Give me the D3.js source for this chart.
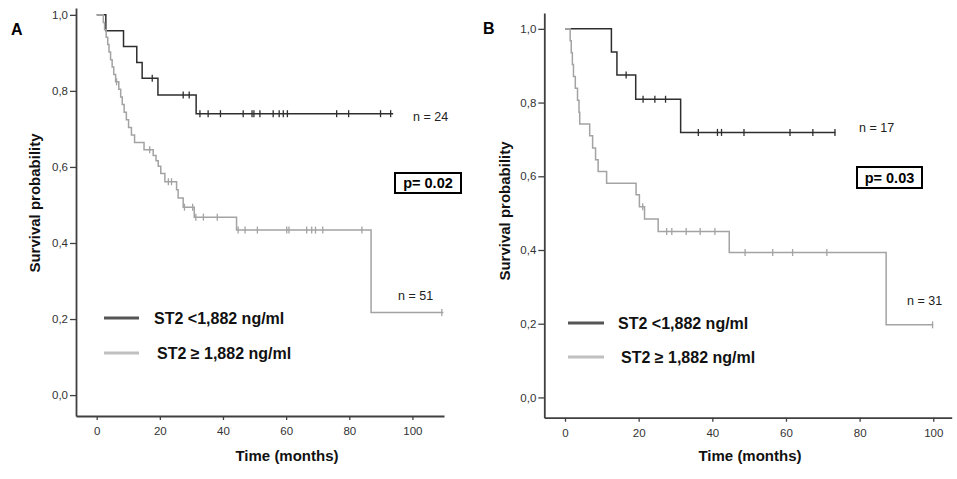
<!DOCTYPE html>
<html>
<head>
<meta charset="utf-8">
<script src="https://cdn.jsdelivr.net/npm/d3@7"></script>
<style>
  body { margin: 0; background: #fff; }
  svg { display: block; font-family: "Liberation Sans", Arial, sans-serif; }
</style>
</head>
<body>
<div id="chart"></div>
<script>
// ---- data: [time (months), survival after step] ----
const yTicks = [0, 0.2, 0.4, 0.6, 0.8, 1.0];
const xTicks = [0, 20, 40, 60, 80, 100];
const legendLabels = ["ST2 <1,882 ng/ml", "ST2 \u2265 1,882 ng/ml"];

// panel A, ST2 < 1,882 (n = 24)
const aLowSteps = [[0, 1], [2.9, 0.958], [8.5, 0.917], [12.7, 0.875], [14.4, 0.833], [19.4, 0.789], [31.5, 0.740]];
const aLowCensor = [17.6, 27.4, 29.3, 32.7, 35.3, 39.2, 46.4, 49.2, 49.8, 51.7, 55.9, 57.8, 59.1, 60.4, 76.0, 79.8, 89.9, 93.1];
const aLowEnd = 93.9;

// panel A, ST2 >= 1,882 (n = 51)
const aHighSteps = [[0, 1], [2.1, 0.980], [2.5, 0.961], [3.0, 0.941], [3.5, 0.922], [3.9, 0.902], [4.4, 0.882],
  [4.9, 0.863], [5.4, 0.843], [6.0, 0.824], [7.0, 0.804], [7.6, 0.784], [8.1, 0.764], [8.7, 0.744], [9.4, 0.724],
  [10.1, 0.704], [11.0, 0.684], [12.0, 0.664], [15.0, 0.645], [17.9, 0.630], [18.8, 0.616], [19.5, 0.602],
  [20.3, 0.583], [21.6, 0.561], [25.3, 0.540], [25.8, 0.518], [27.4, 0.494], [30.9, 0.468], [44.3, 0.434], [86.9, 0.217]];
const aHighCensor = [6.3, 16.8, 22.7, 23.7, 27.8, 30.4, 31.4, 33.8, 38.2, 44.8, 47.0, 50.9, 60.2, 60.9, 66.5, 68.1, 69.3, 71.6, 84.0, 109.3];
const aHighEnd = 109.8;

// panel B, ST2 < 1,882 (n = 17)
const bLowSteps = [[0, 1], [12.6, 0.937], [14.1, 0.875], [19.2, 0.809], [31.4, 0.719]];
const bLowCensor = [16.6, 21.2, 24.4, 27.3, 36.2, 41.4, 42.5, 48.6, 61.1, 67.3, 73.3];
const bLowEnd = 73.4;

// panel B, ST2 >= 1,882 (n = 31)
const bHighSteps = [[0, 1], [1.4, 0.968], [1.7, 0.935], [2.0, 0.903], [2.3, 0.871], [2.8, 0.839], [3.4, 0.806],
  [3.8, 0.774], [4.0, 0.742], [6.7, 0.710], [7.5, 0.677], [8.3, 0.645], [9.0, 0.613], [11.3, 0.581],
  [19.3, 0.550], [20.2, 0.517], [21.6, 0.484], [25.3, 0.450], [44.6, 0.393], [87.2, 0.197]];
const bHighCensor = [21.1, 27.6, 29.0, 32.9, 36.7, 40.7, 48.9, 56.4, 61.8, 71.1, 99.8];
const bHighEnd = 100;

const panels = [
  {
    label: "A", labelPos: [11, 35],
    xDomain: [-6.55, 110], xRange: [76, 444],
    yDomain: [-0.055, 1.018], yRange: [416, 8],
    yTitle: [35, 203], xTitleX: 287,
    low: { steps: aLowSteps, censor: aLowCensor, end: aLowEnd, n: "n = 24", nPos: [413, 121] },
    high: { steps: aHighSteps, censor: aHighCensor, end: aHighEnd, n: "n = 51", nPos: [398, 300] },
    legend: { x1: 104, x2: 139, textX: [154, 157], y: [318, 353] },
    pBox: { x: 395, y: 173, w: 66, h: 20, text: "p= 0.02" }
  },
  {
    label: "B", labelPos: [483, 34],
    xDomain: [-5.62, 105], xRange: [544.3, 951.7],
    yDomain: [-0.055, 1.043], yRange: [417.7, 13],
    yTitle: [505, 211], xTitleX: 750,
    low: { steps: bLowSteps, censor: bLowCensor, end: bLowEnd, n: "n = 17", nPos: [859, 132] },
    high: { steps: bHighSteps, censor: bHighCensor, end: bHighEnd, n: "n = 31", nPos: [907, 305] },
    legend: { x1: 568, x2: 604, textX: [618, 621], y: [323, 357] },
    pBox: { x: 857, y: 167, w: 65, h: 21, text: "p= 0.03" }
  }
];

const W = 957, H = 479;
const lowColor = "#2e2e2e", highColor = "#a3a3a3";

const svg = d3.select("#chart").append("svg")
  .attr("width", W).attr("height", H)
  .attr("viewBox", [0, 0, W, H]);

// survival value at time t for a step list
const survAt = (steps, t) => {
  let s = steps[0][1];
  steps.forEach((p) => { if (p[0] <= t) s = p[1]; });
  return s;
};

const drawPanel = (p) => {
  const g = svg.append("g");
  const x = d3.scaleLinear().domain(p.xDomain).range(p.xRange);
  const y = d3.scaleLinear().domain(p.yDomain).range(p.yRange);

  const xAxis = d3.axisBottom(x).tickValues(xTicks).tickSize(4).tickSizeOuter(0).tickPadding(7);
  const yAxis = d3.axisLeft(y).tickValues(yTicks).tickSize(6).tickSizeOuter(0).tickPadding(2)
    .tickFormat((d) => d3.format(".1f")(d).replace(".", ","));

  const gx = g.append("g").attr("transform", `translate(0,${p.yRange[0]})`).call(xAxis);
  const gy = g.append("g").attr("transform", `translate(${p.xRange[0]},0)`).call(yAxis);
  [gx, gy].forEach((ax) => {
    ax.select(".domain").attr("stroke", "#404040").attr("stroke-width", 1.8);
    ax.selectAll(".tick line").attr("stroke", "#404040").attr("stroke-width", 1.3);
    ax.selectAll(".tick text").attr("fill", "#333").attr("font-size", 11.5);
  });

  const line = d3.line()
    .x((d) => x(d[0]))
    .y((d) => y(d[1]))
    .curve(d3.curveStepAfter);

  // dark curve first, light curve on top (as in the original)
  [["low", lowColor], ["high", highColor]].forEach(([key, color]) => {
    const s = p[key];
    const pts = s.steps.concat([[s.end, s.steps[s.steps.length - 1][1]]]);
    g.append("path")
      .datum(pts)
      .attr("fill", "none")
      .attr("stroke", color)
      .attr("stroke-width", 1.5)
      .attr("d", line);
    g.append("g")
      .selectAll("line")
      .data(s.censor)
      .join("line")
      .attr("x1", (d) => x(d)).attr("x2", (d) => x(d))
      .attr("y1", (d) => y(survAt(s.steps, d)) - 3.5)
      .attr("y2", (d) => y(survAt(s.steps, d)) + 3.5)
      .attr("stroke", color)
      .attr("stroke-width", 1.3);
    g.append("text")
      .attr("x", s.nPos[0]).attr("y", s.nPos[1])
      .attr("font-size", 12.5).attr("fill", "#222")
      .text(s.n);
  });

  // legend
  const lg = p.legend;
  [lowColor === "#2e2e2e" ? "#555" : lowColor, "#c0c0c0"].forEach((c, i) => {
    g.append("line")
      .attr("x1", lg.x1).attr("x2", lg.x2)
      .attr("y1", lg.y[i]).attr("y2", lg.y[i])
      .attr("stroke", c).attr("stroke-width", 3);
    g.append("text")
      .attr("x", lg.textX[i]).attr("y", lg.y[i] + 5.5)
      .attr("font-size", 16).attr("font-weight", "bold").attr("fill", "#111")
      .text(legendLabels[i]);
  });

  // p value box
  const pb = p.pBox;
  g.append("rect")
    .attr("x", pb.x).attr("y", pb.y).attr("width", pb.w).attr("height", pb.h)
    .attr("fill", "#fff").attr("stroke", "#000").attr("stroke-width", 2);
  g.append("text")
    .attr("x", pb.x + pb.w / 2).attr("y", pb.y + pb.h / 2 + 5)
    .attr("text-anchor", "middle")
    .attr("font-size", 14.5).attr("font-weight", "bold")
    .text(pb.text);

  // titles
  g.append("text")
    .attr("x", p.xTitleX).attr("y", 461)
    .attr("text-anchor", "middle")
    .attr("font-size", 15).attr("font-weight", "bold").attr("fill", "#111")
    .text("Time (months)");
  g.append("text")
    .attr("transform", `translate(${p.yTitle[0] + 5},${p.yTitle[1]}) rotate(-90)`)
    .attr("text-anchor", "middle")
    .attr("font-size", 15).attr("font-weight", "bold").attr("fill", "#111")
    .text("Survival probability");
  g.append("text")
    .attr("x", p.labelPos[0]).attr("y", p.labelPos[1])
    .attr("font-size", 16).attr("font-weight", "bold")
    .text(p.label);
};

panels.forEach(drawPanel);
</script>
</body>
</html>
